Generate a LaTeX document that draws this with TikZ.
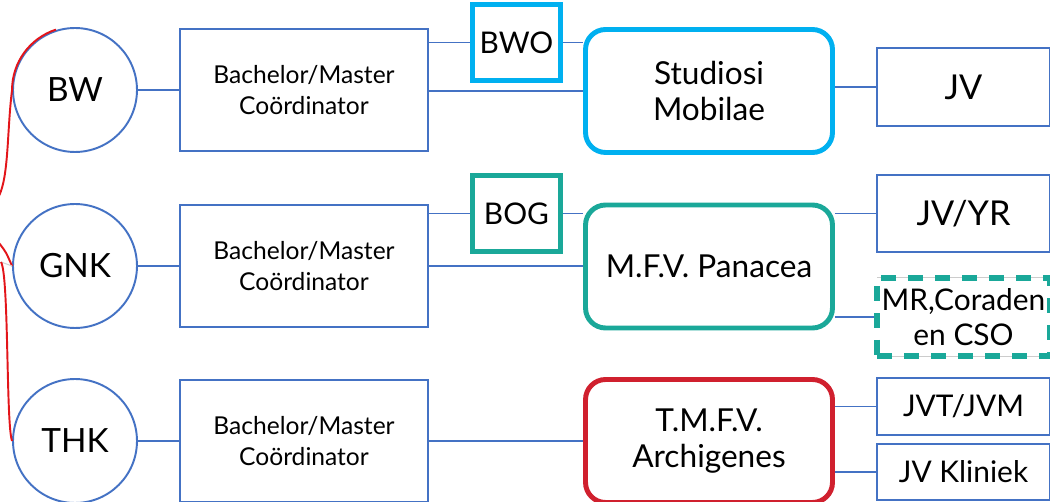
\documentclass[tikz,border=0pt]{standalone}
\usepackage{fontspec}
\setmainfont{Lato}
\usetikzlibrary{calc}

\definecolor{lineblue}{HTML}{4472C4}
\definecolor{bwocyan}{HTML}{00B0F0}
\definecolor{bogteal}{HTML}{1AA899}
\definecolor{tmfvred}{HTML}{D0202E}
\definecolor{facred}{HTML}{E3151A}

\tikzset{
  faccirc/.style={circle, draw=lineblue, line width=1.1pt, fill=white,
    minimum size=2.48cm, inner sep=0pt, font=\fontsize{19}{21}\selectfont},
  coordbox/.style={draw=lineblue, line width=1.1pt, fill=white,
    minimum width=4.96cm, minimum height=2.44cm, align=center,
    font=\fontsize{14}{17.6}\selectfont},
  smallbox/.style={line width=2.8pt, fill=white, minimum width=1.76cm,
    minimum height=1.52cm, inner sep=0pt, font=\fontsize{17}{19}\selectfont},
  vereniging/.style={rounded corners=0.4cm, line width=2.8pt, fill=white,
    minimum width=4.94cm, minimum height=2.46cm, align=center,
    font=\fontsize{18}{20.4}\selectfont},
  commbox/.style={draw=lineblue, line width=1.1pt, fill=white,
    minimum width=3.46cm, align=center, inner sep=0pt},
  dashbox/.style={draw=bogteal, line width=3pt,
    dash pattern=on 0.3cm off 0.24cm,
    preaction={draw=gray!40, line width=0.6pt, solid}},
  conn/.style={draw=lineblue, line width=0.75pt},
  facline/.style={draw=facred, line width=1.1pt}
}

\begin{document}
\begin{tikzpicture}[x=0.02cm,y=0.02cm]
\useasboundingbox (0,0) rectangle (1050,-502);
\clip (0,0) rectangle (1050,-502);

% faculteiten
\node[faccirc] (BW) at (75,-90) {BW};
\node[faccirc] (GNK) at (75,-266) {GNK};
\node[faccirc] (THK) at (75,-441) {THK};

\node[coordbox] (bmBW) at (304,-90) {Bachelor/Master\\Coördinator};
\node[coordbox] (bmGNK) at (304,-266) {Bachelor/Master\\Coördinator};
\node[coordbox] (bmTHK) at (304,-441) {Bachelor/Master\\Coördinator};

\node[smallbox, draw=bwocyan] (BWO) at (516.5,-42.5) {BWO};
\node[smallbox, draw=bogteal] (BOG) at (516.5,-213.5) {BOG};

% verenigingen
\node[vereniging, draw=bwocyan] (stud) at (709,-91) {Studiosi\\Mobilae};
\node[vereniging, draw=bogteal] (panacea) at (709,-266.5) {M.F.V. Panacea};
\node[vereniging, draw=tmfvred] (archi) at (709,-441) {T.M.F.V.\\Archigenes};

\node[commbox, minimum height=1.56cm, font=\fontsize{19.5}{22}\selectfont] (jvBW) at (963.5,-87) {JV};
\node[commbox, minimum height=1.54cm, font=\fontsize{19.5}{22}\selectfont] (jvyr) at (963.5,-213.5) {JV/YR};
\node[commbox, dashbox, minimum height=1.56cm, font=\fontsize{17}{20}\selectfont] (mr) at (963.5,-317) {MR,Coraden\\en CSO};
\node[commbox, minimum height=1.14cm, font=\fontsize{17}{20}\selectfont] (jvt) at (963.5,-406.5) {JVT/JVM};
\node[commbox, minimum height=1.12cm, font=\fontsize{17}{20}\selectfont] (jvk) at (963.5,-472) {JV Kliniek};

% verbindingen
\draw[conn] (BW) -- (bmBW);
\draw[conn] (GNK) -- (bmGNK);
\draw[conn] (THK) -- (bmTHK);

\draw[conn] (bmBW.east |- BWO.west) -- (BWO.west);
\draw[conn] (BWO.east) -- (stud.west |- BWO.east);
\draw[conn] (bmBW.east |- stud.west) -- (stud.west);
\draw[conn] (stud.east |- jvBW.west) -- (jvBW.west);

\draw[conn] (bmGNK.east |- BOG.west) -- (BOG.west);
\draw[conn] (BOG.east) -- (panacea.west |- BOG.east);
\draw[conn] (bmGNK.east) -- (panacea.west |- bmGNK.east);
\draw[conn] (panacea.east |- jvyr.west) -- (jvyr.west);
\draw[conn] (panacea.east |- mr.west) -- (mr.west);

\draw[conn] (bmTHK.east) -- (archi.west |- bmTHK.east);
\draw[conn] (archi.east |- jvt.west) -- (jvt.west);
\draw[conn] (archi.east |- jvk.west) -- (jvk.west);

% lijnen naar links
\coordinate (offA) at (-1,-196);
\coordinate (offB) at (-1,-243);
\coordinate (offC) at (1,-262);
\draw[facline] (offA) .. controls (9,-175) and (7,-130) .. (BW.west)
  arc[start angle=180, end angle=108, radius=1.27cm];
\draw[facline] (offB) .. controls (6,-252) .. (GNK.west);
\draw[gray!35, line width=0.6pt] (offC) -- (GNK.west);
\draw[facline] (offC) .. controls (9,-275) and (6,-425) .. (THK.west);
\end{tikzpicture}
\end{document}
